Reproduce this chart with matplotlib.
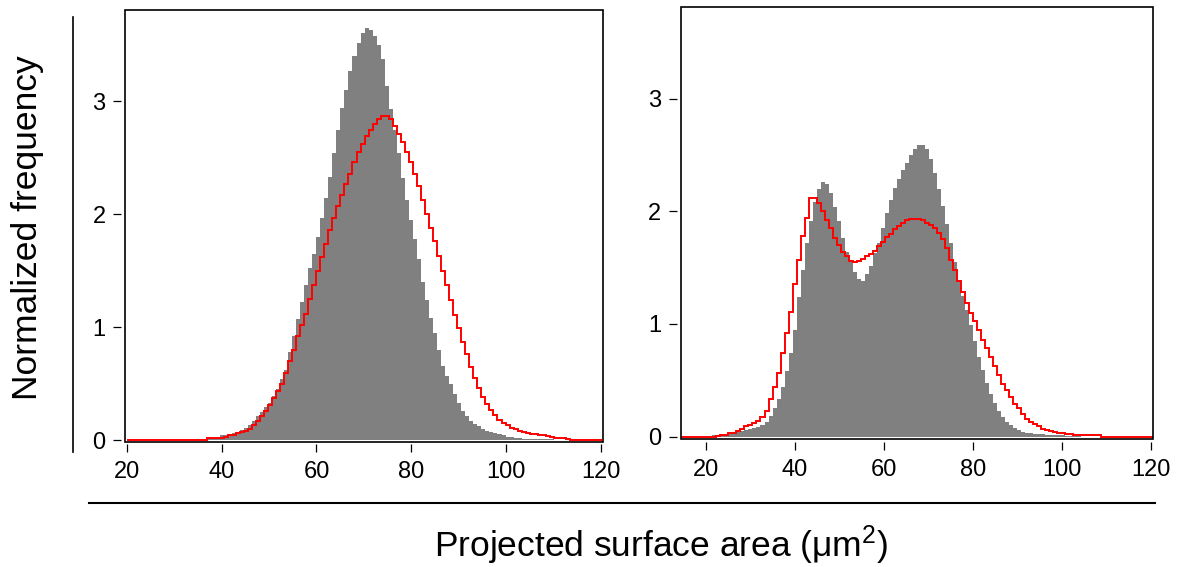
import numpy as np
import matplotlib
matplotlib.use("Agg")
import matplotlib.pyplot as plt
from matplotlib.lines import Line2D
from matplotlib.patches import Rectangle

plt.rcParams['font.family'] = ['Liberation Sans', 'DejaVu Sans']
plt.rcParams['mathtext.default'] = 'regular'

# left panel: bins of 0.85 starting at 20
left_start = 20.0
left_width = 0.85
left_gray = [
    0, 0, 0, 0, 0, 0, 0, 0, 0, 0,
    0, 0, 0, 0, 0, 0, 0, 0, 0, 0,
    0.01, 0.015, 0.03, 0.04, 0.045, 0.05, 0.06, 0.07, 0.09, 0.11,
    0.13, 0.17, 0.21, 0.25, 0.29, 0.33, 0.39, 0.45, 0.54, 0.62,
    0.78, 0.92, 1.07, 1.22, 1.37, 1.52, 1.65, 1.80, 1.97, 2.14,
    2.33, 2.54, 2.75, 2.94, 3.10, 3.27, 3.40, 3.52, 3.61, 3.65,
    3.63, 3.58, 3.50, 3.38, 3.14, 2.93, 2.75, 2.54, 2.32, 2.13,
    1.95, 1.78, 1.60, 1.40, 1.24, 1.08, 0.95, 0.80, 0.66, 0.57,
    0.50, 0.41, 0.33, 0.26, 0.21, 0.17, 0.14, 0.12, 0.10, 0.08,
    0.07, 0.06, 0.05, 0.04, 0.03, 0.025, 0.02, 0.015, 0.01, 0.01,
    0.01, 0.005, 0.005, 0.005, 0.005, 0.005, 0, 0, 0, 0,
    0, 0, 0, 0, 0, 0, 0, 0,
]
left_red = [
    0, 0, 0, 0, 0, 0, 0, 0, 0, 0,
    0, 0, 0, 0, 0, 0, 0, 0, 0, 0,
    0.02, 0.02, 0.02, 0.02, 0.03, 0.04, 0.045, 0.06, 0.07, 0.08,
    0.10, 0.13, 0.17, 0.21, 0.26, 0.31, 0.37, 0.43, 0.50, 0.59,
    0.70, 0.80, 0.92, 1.02, 1.12, 1.25, 1.37, 1.50, 1.62, 1.74,
    1.86, 1.97, 2.07, 2.17, 2.27, 2.36, 2.46, 2.55, 2.62, 2.69,
    2.75, 2.80, 2.84, 2.87, 2.87, 2.84, 2.78, 2.71, 2.64, 2.55,
    2.46, 2.36, 2.25, 2.13, 2.00, 1.88, 1.76, 1.63, 1.50, 1.37,
    1.24, 1.11, 0.99, 0.87, 0.76, 0.65, 0.55, 0.46, 0.38, 0.32,
    0.27, 0.22, 0.18, 0.15, 0.13, 0.11, 0.10, 0.08, 0.07, 0.06,
    0.055, 0.05, 0.045, 0.04, 0.035, 0.03, 0.02, 0.02, 0.015, 0.01,
    0, 0, 0, 0, 0, 0, 0, 0,
]

# right panel: bins of 0.9 starting at 14.3
right_start = 14.3
right_width = 0.9
right_gray = [
    0, 0, 0, 0, 0, 0, 0, 0, 0.01, 0.015, 0.02,
    0.025, 0.03, 0.035, 0.04, 0.05, 0.06, 0.065, 0.075, 0.085, 0.10,
    0.13, 0.18, 0.25, 0.33, 0.44, 0.58, 0.74, 0.95, 1.24, 1.48,
    1.72, 1.91, 2.08, 2.20, 2.26, 2.24, 2.16, 2.04, 1.91, 1.76,
    1.64, 1.55, 1.46, 1.40, 1.38, 1.44, 1.51, 1.63, 1.72, 1.85,
    1.98, 2.10, 2.21, 2.29, 2.37, 2.43, 2.50, 2.55, 2.59, 2.59,
    2.55, 2.46, 2.34, 2.20, 2.05, 1.89, 1.72, 1.55, 1.39, 1.25,
    1.12, 0.99, 0.85, 0.71, 0.59, 0.48, 0.38, 0.30, 0.23, 0.17,
    0.13, 0.10, 0.08, 0.06, 0.045, 0.035, 0.03, 0.025, 0.02, 0.02,
    0.015, 0.015, 0.01, 0.01, 0.01, 0.005, 0.005, 0.005, 0.005, 0,
    0, 0, 0, 0, 0, 0, 0, 0, 0, 0,
    0, 0, 0, 0, 0, 0, 0,
]
right_red = [
    0, 0, 0, 0, 0, 0, 0, 0, 0, 0.005, 0.015,
    0.015, 0.03, 0.035, 0.05, 0.07, 0.09, 0.10, 0.12, 0.14, 0.17,
    0.23, 0.33, 0.44, 0.56, 0.74, 0.92, 1.11, 1.35, 1.57, 1.78,
    1.94, 2.12, 2.12, 2.07, 2.00, 1.92, 1.85, 1.76, 1.70, 1.64,
    1.60, 1.56, 1.55, 1.56, 1.58, 1.60, 1.62, 1.65, 1.69, 1.73,
    1.77, 1.80, 1.84, 1.87, 1.90, 1.92, 1.93, 1.93, 1.93, 1.92,
    1.90, 1.88, 1.85, 1.81, 1.75, 1.67, 1.57, 1.48, 1.38, 1.28,
    1.19, 1.10, 1.03, 0.95, 0.86, 0.79, 0.71, 0.63, 0.55, 0.47,
    0.41, 0.35, 0.29, 0.25, 0.20, 0.16, 0.13, 0.11, 0.09, 0.07,
    0.06, 0.05, 0.04, 0.035, 0.03, 0.025, 0.02, 0.015, 0.015, 0.015,
    0.015, 0.015, 0.01, 0.01, 0, 0, 0, 0, 0, 0,
    0, 0, 0, 0, 0, 0, 0,
]

x_ticks = [20, 40, 60, 80, 100, 120]
y_ticks = [0, 1, 2, 3]

W, H = 1187, 567
fig = plt.figure(figsize=(W / 100, H / 100), dpi=100)

# axes boxes in pixels: left, top, right, bottom
boxes = [(125, 10, 602.7, 441.7), (680.7, 7.3, 1153.2, 439.3)]
xlims = [(19.6, 120.4), (14.4, 120.4)]
ylims = [(-0.015, 3.81), (-0.024, 3.81)]
panels = [
    (left_start, left_width, left_gray, left_red),
    (right_start, right_width, right_gray, right_red),
]

for (l, t, r, b), xl, yl, (start, bw, gray, red) in zip(boxes, xlims, ylims, panels):
    ax = fig.add_axes([l / W, 1 - b / H, (r - l) / W, (b - t) / H])
    edges = start + bw * np.arange(len(gray) + 1)
    ax.stairs(gray, edges, fill=True, color='#808080', linewidth=0, zorder=2)
    ax.stairs(red, edges, color='#ff0000', linewidth=1.4, zorder=3)
    ax.set_xlim(*xl)
    ax.set_ylim(*yl)
    ax.set_xticks(x_ticks)
    ax.set_yticks(y_ticks)
    # detached ticks (Igor style): offset invisible spines carry the ticks
    ax.spines['left'].set_position(('outward', 3))
    ax.spines['bottom'].set_position(('outward', 2))
    for s in ax.spines.values():
        s.set_visible(False)
    ax.add_patch(Rectangle((0, 0), 1, 1, transform=ax.transAxes, fill=False,
                           edgecolor='black', linewidth=1.2, zorder=5, clip_on=False))
    ax.tick_params(axis='both', direction='out', length=6, width=0.9,
                   labelsize=17, colors='black')
    ax.tick_params(axis='x', pad=6)
    ax.tick_params(axis='y', pad=5)
    ax.patch.set_alpha(0)

# outer decorative axis lines
fig.add_artist(Line2D([72.7 / W, 72.7 / W], [1 - 17 / H, 1 - 451.7 / H],
                      transform=fig.transFigure, color='black', linewidth=1.2))
fig.add_artist(Line2D([88.8 / W, 1155 / W], [1 - 503 / H, 1 - 503 / H],
                      transform=fig.transFigure, color='black', linewidth=1.5))

fig.text(28 / W, 1 - 228 / H, 'Normalized frequency', rotation=90,
         ha='center', va='center', fontsize=25.5)
fig.text(661 / W, 1 - 545 / H, r'Projected surface area (μm$^{2}$)',
         ha='center', va='center', fontsize=25.5)

fig.savefig('out.png', dpi=100)
